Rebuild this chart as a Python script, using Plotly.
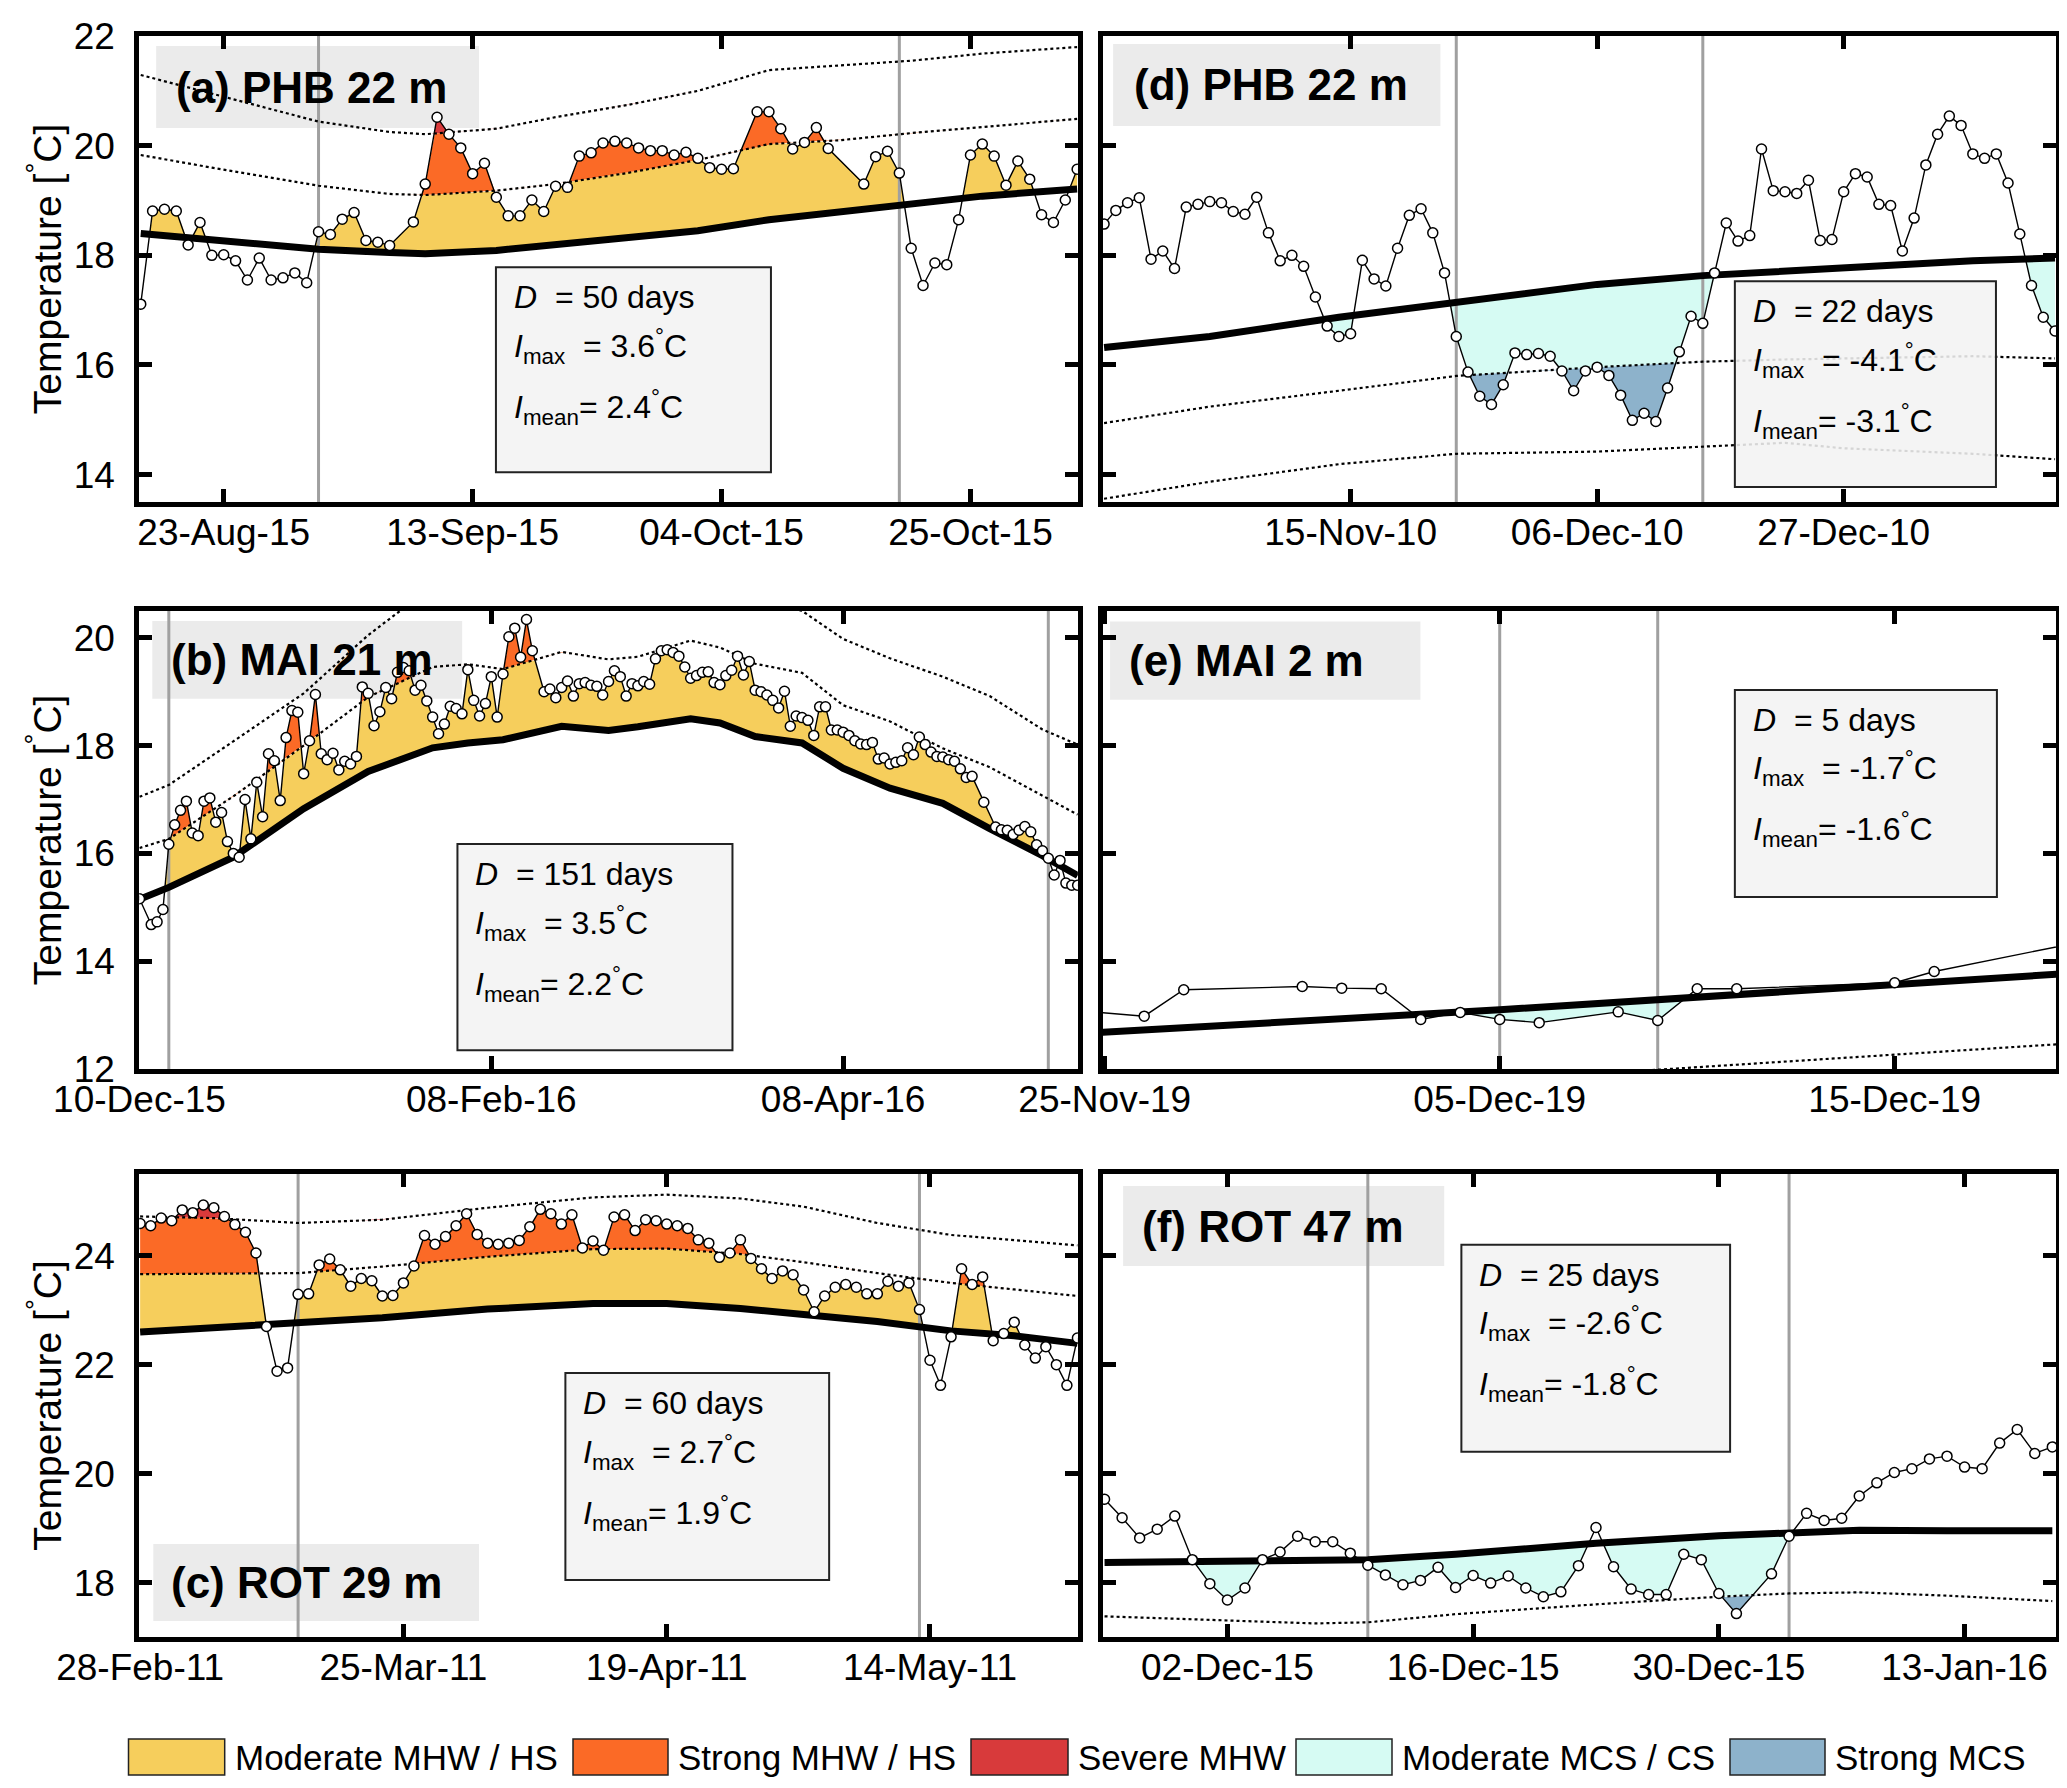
import numpy as np
import plotly.graph_objects as go

# colours of the event categories
c_mod_w = "#f6ce5c"
c_str_w = "#fb6a26"
c_sev_w = "#d83a3b"
c_mod_c = "#d6fbf3"
c_str_c = "#8db2cb"

# ---------------- (a) PHB 22 m
a_start = "2015-08-16"
a_temp = [17.11, 18.81, 18.84, 18.81, 18.19, 18.6, 18.0, 18.01, 17.9, 17.55,
          17.95, 17.55, 17.59, 17.68, 17.5, 18.43, 18.38, 18.66, 18.78, 18.27,
          18.24, 18.18, None, 18.61, 19.3, 20.52, 20.21, 19.96, 19.49, 19.68,
          19.06, 18.72, 18.72, 19.01, 18.8, 19.26, 19.24, 19.81, 19.87, 20.05,
          20.08, 20.05, 19.96, 19.91, 19.91, 19.83, 19.88, 19.77, 19.6, 19.57,
          19.58, None, 20.62, 20.62, 20.31, 19.94, 20.06, 20.33, 19.95, None,
          None, 19.3, 19.8, 19.9, 19.5, 18.13, 17.45, 17.86, 17.83, 18.65,
          19.83, 20.03, 19.81, 19.28, 19.72, 19.39, 18.74, 18.6, 19.01, 19.57]
a_kday = [0, 6, 15, 21, 24, 30, 35, 41, 47, 53, 59, 65, 71, 79]
a_clim = [18.4, 18.29, 18.11, 18.05, 18.03, 18.09, 18.19, 18.32, 18.45, 18.65, 18.8, 18.96, 19.08, 19.21]
a_thr1 = [19.83, 19.6, 19.27, 19.12, 19.1, 19.18, 19.3, 19.5, 19.74, 20.03, 20.1, 20.23, 20.34, 20.49]
a_thr2 = [21.29, 20.95, 20.44, 20.25, 20.21, 20.31, 20.52, 20.74, 21.0, 21.38, 21.46, 21.55, 21.68, 21.8]
a_event = ["2015-08-31", "2015-10-19"]
a_ticks = ["2015-08-23", "2015-09-13", "2015-10-04", "2015-10-25"]

# ---------------- (d) PHB 22 m
d_start = "2010-10-25"
d_temp = [18.57, 18.82, 18.96, 19.05, 17.93, 18.08, 17.76, 18.88, 18.93, 18.98,
          18.96, 18.8, 18.75, 19.06, 18.41, 17.9, 18.0, 17.8, 17.24, 16.71,
          16.52, 16.57, 17.91, 17.57, 17.44, 18.13, 18.73, 18.85, 18.41, 17.68,
          16.52, 15.87, 15.43, 15.28, 15.64, 16.22, 16.19, 16.21, 16.16, 15.89,
          15.53, 15.89, 15.96, 15.81, 15.45, 14.99, 15.12, 14.97, 15.58, 16.24,
          16.89, 16.76, 17.68, 18.59, 18.26, 18.36, 19.94, 19.18, 19.16, 19.13,
          19.37, 18.27, 18.29, 19.16, 19.49, 19.43, 18.93, 18.91, 18.08, 18.68,
          19.65, 20.21, 20.54, 20.37, 19.85, 19.77, 19.85, 19.32, 18.39, 17.45,
          16.87, 16.62]
d_kday = [0, 9, 20, 30, 42, 51, 58, 63, 74, 81]
d_clim = [16.32, 16.52, 16.87, 17.15, 17.47, 17.63, 17.72, 17.78, 17.9, 17.95]
d_thr1 = [14.94, 15.24, 15.53, 15.8, 15.96, 16.06, 16.1, 16.12, 16.16, 16.12]
d_thr2 = [13.56, 13.87, 14.19, 14.38, 14.42, 14.51, 14.58, 14.48, 14.38, 14.28]
d_event = ["2010-11-24", "2010-12-15"]
d_ticks = ["2010-11-15", "2010-12-06", "2010-12-27"]

# ---------------- (b) MAI 21 m
b_start = "2015-12-10"
b_temp = [15.16, None, 14.68, 14.73, 14.96, 16.17, 16.53, 16.8, 16.97, 16.38,
          16.33, 16.97, 17.03, 16.58, 16.76, 16.22, 16.0, 15.93, 17.0, 16.27,
          17.32, 16.68, 17.85, 17.72, 16.98, 18.15, 18.65, 18.62, 17.48, 18.09,
          18.95, 17.85, 17.74, 17.86, 17.55, 17.71, 17.66, 17.8, 19.09, 18.97,
          18.37, 18.63, 19.08, 18.87, 19.36, 19.45, 19.39, 19.03, 19.12, 18.83,
          18.53, 18.22, 18.4, 18.73, 18.69, 18.59, 19.41, 18.84, 18.55, 18.78,
          19.28, 18.53, 19.33, 20.02, 20.18, 19.64, 20.34, 19.76, None, 19.0,
          19.05, 18.89, 19.08, 19.2, 18.92, 19.15, 19.17, 19.12, 19.1, 18.94,
          19.19, 19.39, 19.28, 18.92, 19.15, 19.11, 19.19, 19.14, 19.61, 19.76,
          19.78, 19.73, 19.66, 19.46, 19.25, 19.3, 19.36, 19.37, 19.17, 19.13,
          19.3, 19.4, 19.66, 19.31, 19.56, 19.03, 19.0, 18.94, 18.84, 18.7,
          19.01, 18.36, 18.55, 18.52, 18.47, 18.19, 18.72, 18.72, 18.29, 18.29,
          18.25, 18.19, 18.09, 18.03, 18.02, 18.06, 17.75, 17.77, 17.66, 17.69,
          17.72, 17.96, 17.83, 18.16, 18.02, 17.88, 17.8, 17.79, 17.74, 17.71,
          17.57, 17.41, 17.43, None, 16.95, None, 16.49, 16.44, 16.43, 16.35,
          16.43, 16.5, 16.4, 16.16, 16.05, 15.91, 15.6, 15.87, 15.45, 15.41,
          15.41]
b_kday = [0, 5, 16, 28, 39, 50, 56, 62, 72, 80, 85, 94, 99, 105, 113, 120, 128, 137, 145, 154, 160]
b_clim = [15.15, 15.37, 15.93, 16.83, 17.52, 17.96, 18.05, 18.11, 18.36, 18.28, 18.35,
          18.5, 18.42, 18.17, 18.05, 17.58, 17.21, 16.93, 16.46, 15.96, 15.59]
b_thr1 = [16.1, 16.27, 17.06, 18.0, 18.9, 19.46, 19.51, 19.42, 19.74, 19.6, 19.65,
          19.95, 19.82, 19.52, 19.35, 18.75, 18.45, 17.95, 17.6, 17.07, 16.72]
b_thr2 = [17.05, 17.27, 18.08, 18.97, 20.05, 20.96, 20.9, 20.73, 21.1, 20.9, 20.85,
          21.3, 21.2, 20.75, 20.5, 19.98, 19.62, 19.28, 18.92, 18.3, 18.02]
b_event = ["2015-12-15", "2016-05-13"]
b_ticks = ["2015-12-10", "2016-02-08", "2016-04-08"]

# ---------------- (e) MAI 2 m
e_start = "2019-11-24"
e_dates = ["2019-11-24", "2019-11-26", "2019-11-27", "2019-11-30", "2019-12-01",
           "2019-12-02", "2019-12-03", "2019-12-04", "2019-12-05", "2019-12-06",
           "2019-12-08", "2019-12-09", "2019-12-10", "2019-12-11", "2019-12-15",
           "2019-12-16", "2019-12-20"]
e_temp = [13.1, 12.98, 13.47, 13.53, 13.5, 13.49, 12.92, 13.05, 12.92, 12.86,
          13.06, 12.9, 13.49, 13.49, 13.6, 13.81, 14.4]
e_kday = [0, 11, 26]
e_clim = [12.64, 13.1, 13.8]
e_thr1 = [11.27, 11.8, 12.5]
e_thr2 = [9.9, 10.5, 11.2]
e_event = ["2019-12-05", "2019-12-09"]
e_ticks = ["2019-11-25", "2019-12-05", "2019-12-15"]

# ---------------- (c) ROT 29 m
c_start = "2011-02-28"
c_temp = [24.59, 24.55, 24.69, 24.64, 24.84, 24.79, 24.93, 24.88, 24.72, 24.57,
          24.43, 24.05, 22.7, 21.88, 21.94, 23.29, 23.3, 23.83, 23.94, 23.74,
          23.44, 23.58, 23.54, 23.26, 23.27, 23.5, 23.81, 24.37, 24.21, 24.35,
          24.55, 24.77, 24.39, 24.23, 24.21, 24.23, 24.28, 24.53, 24.85, 24.77,
          24.58, 24.75, 24.14, 24.27, 24.1, 24.71, 24.75, 24.46, 24.66, 24.64,
          24.58, 24.55, 24.5, 24.29, 24.23, 23.97, 24.05, 24.29, 23.95, 23.76,
          23.58, 23.72, 23.65, 23.37, 22.97, 23.26, 23.42, 23.47, 23.42, 23.3,
          23.3, 23.53, 23.44, 23.5, 23.01, 22.08, 21.62, 22.51, 23.76, 23.47,
          23.61, 22.44, 22.57, 22.78, 22.36, 22.12, 22.33, 22.0, 21.62, 22.49]
c_kday = [0, 7, 15, 23, 33, 43, 50, 57, 63, 70, 77, 83, 89]
c_clim = [22.6, 22.68, 22.78, 22.86, 23.02, 23.12, 23.12, 23.03, 22.92, 22.79, 22.62, 22.53, 22.39]
c_thr1 = [23.66, 23.67, 23.68, 23.8, 23.98, 24.12, 24.13, 24.03, 23.88, 23.68, 23.5, 23.38, 23.26]
c_thr2 = [24.72, 24.69, 24.6, 24.66, 24.88, 25.07, 25.12, 25.05, 24.9, 24.6, 24.38, 24.28, 24.19]
c_event = ["2011-03-15", "2011-05-13"]
c_ticks = ["2011-02-28", "2011-03-25", "2011-04-19", "2011-05-14"]

# ---------------- (f) ROT 47 m
f_start = "2015-11-25"
f_temp = [19.53, 19.19, 18.82, 18.98, 19.22, 18.42, 17.98, 17.68, 17.9, 18.42,
          18.56, 18.85, 18.75, 18.75, 18.54, 18.32, 18.14, 17.96, 18.04, 18.28,
          17.91, 18.13, 17.99, 18.12, 17.9, 17.74, 17.83, 18.31, 19.01, 18.29,
          17.88, 17.78, 17.78, 18.52, 18.42, 17.8, 17.43, None, 18.16, 18.85,
          19.27, 19.14, 19.18, 19.59, 19.83, 20.02, 20.09, 20.27, 20.32, 20.12,
          20.09, 20.56, 20.81, 20.37, 20.49]
f_kday = [0, 7, 12, 15, 20, 28, 35, 39, 43, 48, 54]
f_clim = [18.37, 18.38, 18.39, 18.42, 18.52, 18.72, 18.86, 18.92, 18.96, 18.95, 18.95]
f_thr1 = [17.38, 17.3, 17.25, 17.27, 17.42, 17.6, 17.74, 17.8, 17.82, 17.76, 17.66]
f_thr2 = [16.4, 16.3, 16.1, 16.1, 16.3, 16.5, 16.6, 16.7, 16.7, 16.6, 16.4]
f_event = ["2015-12-10", "2016-01-03"]
f_ticks = ["2015-12-02", "2015-12-16", "2015-12-30", "2016-01-13"]

fig = go.Figure()


def add_panel(n, start, temp, kday, clim, thr1, thr2, event, yr, warm, dates=None):
    xa = "x" if n == 1 else "x%d" % n
    ya = "y" if n == 1 else "y%d" % n
    t0 = np.datetime64(start)
    T = np.array([np.nan if v is None else v for v in temp], dtype=float)
    if dates is None:
        d = np.arange(len(T), dtype=float)
    else:
        d = (np.array(dates, dtype="datetime64[D]") - t0).astype(float)
    ok = ~np.isnan(T)

    def when(x):
        return t0 + np.round(np.asarray(x, dtype=float) * 1440).astype("timedelta64[m]")

    # fine grid only used to cut the coloured areas at the crossings
    f = np.linspace(d[ok][0], d[ok][-1], 5000)
    Tf = np.interp(f, d[ok], T[ok])
    Cf = np.interp(f, kday, clim)
    L1 = np.interp(f, kday, thr1)
    L2 = np.interp(f, kday, thr2)
    if warm:
        bands = [(Cf, np.clip(Tf, Cf, L1), c_mod_w),
                 (L1, np.clip(Tf, L1, L2), c_str_w),
                 (L2, np.maximum(Tf, L2), c_sev_w)]
    else:
        bands = [(np.clip(Tf, L1, Cf), Cf, c_mod_c),
                 (np.minimum(Tf, L1), L1, c_str_c)]
    xf = when(f)
    for lo, hi, col in bands:
        fig.add_trace(go.Scatter(x=xf, y=lo, mode="lines", line=dict(width=0),
                                 hoverinfo="skip", xaxis=xa, yaxis=ya))
        fig.add_trace(go.Scatter(x=xf, y=hi, mode="lines", line=dict(width=0),
                                 fill="tonexty", fillcolor=col,
                                 hoverinfo="skip", xaxis=xa, yaxis=ya))
    for ev in event:
        fig.add_trace(go.Scatter(x=[ev, ev], y=yr, mode="lines",
                                 line=dict(color="#a0a0a0", width=3),
                                 hoverinfo="skip", xaxis=xa, yaxis=ya))
    for thr in (thr1, thr2):
        fig.add_trace(go.Scatter(x=when(kday), y=thr, mode="lines",
                                 line=dict(color="black", width=2.2, dash="3px,3px"),
                                 xaxis=xa, yaxis=ya))
    fig.add_trace(go.Scatter(x=when(kday), y=clim, mode="lines",
                             line=dict(color="black", width=7),
                             xaxis=xa, yaxis=ya))
    fig.add_trace(go.Scatter(x=when(d), y=T, mode="lines+markers", connectgaps=True,
                             line=dict(color="black", width=1.4),
                             marker=dict(size=10, color="white",
                                         line=dict(color="black", width=1.5)),
                             xaxis=xa, yaxis=ya))


add_panel(1, a_start, a_temp, a_kday, a_clim, a_thr1, a_thr2, a_event, [13.5, 22], True)
add_panel(2, d_start, d_temp, d_kday, d_clim, d_thr1, d_thr2, d_event, [13.5, 22], False)
add_panel(3, b_start, b_temp, b_kday, b_clim, b_thr1, b_thr2, b_event, [12, 20.5], True)
add_panel(4, e_start, e_temp, e_kday, e_clim, e_thr1, e_thr2, e_event, [12, 20.5], False, e_dates)
add_panel(5, c_start, c_temp, c_kday, c_clim, c_thr1, c_thr2, c_event, [17, 25.5], True)
add_panel(6, f_start, f_temp, f_kday, f_clim, f_thr1, f_thr2, f_event, [17, 25.5], False)

axis = dict(showline=True, linecolor="black", linewidth=5, mirror="ticks",
            ticks="inside", ticklen=13, tickwidth=5, tickcolor="black",
            showgrid=False, zeroline=False, automargin=False,
            tickfont=dict(size=37, color="black"))

left = [0.0635, 0.5176]
right = [0.5298, 0.9908]
rows = [[0.7237, 0.9843], [0.4066, 0.6628], [0.0889, 0.3479]]

panels = [
    # n, col, row, x range, x ticks, y range, y ticks
    (1, left, 0, ["2015-08-15 21:00", "2015-11-03 01:30"], a_ticks, [13.5, 22], [14, 16, 18, 20, 22]),
    (2, right, 0, ["2010-10-24 22:00", "2011-01-14 02:00"], d_ticks, [13.5, 22], [14, 16, 18, 20, 22]),
    (3, left, 1, ["2015-12-09 23:00", "2016-05-18 01:00"], b_ticks, [12, 20.5], [12, 14, 16, 18, 20]),
    (4, right, 1, ["2019-11-24 23:00", "2019-12-19 02:00"], e_ticks, [12, 20.5], [12, 14, 16, 18, 20]),
    (5, left, 2, ["2011-02-27 22:00", "2011-05-28 01:00"], c_ticks, [17, 25.5], [18, 20, 22, 24]),
    (6, right, 2, ["2015-11-24 22:00", "2016-01-18 05:00"], f_ticks, [17, 25.5], [18, 20, 22, 24]),
]

lay = {}
for n, col, r, xr, xt, yr, yt in panels:
    sx = "" if n == 1 else str(n)
    lay["xaxis" + sx] = dict(axis, domain=col, range=xr, type="date", tickvals=xt,
                             tickformat="%d-%b-%y", anchor="y" + sx,
                             ticklabelstandoff=-6)
    lay["yaxis" + sx] = dict(axis, domain=rows[r], range=yr, tickvals=yt,
                             anchor="x" + sx, showticklabels=(col is left),
                             ticklabelstandoff=12)

# panel names and event statistics
names = {1: "(a) PHB 22 m", 2: "(d) PHB 22 m", 3: "(b) MAI 21 m",
         4: "(e) MAI 2 m", 5: "(c) ROT 29 m", 6: "(f) ROT 47 m"}
name_box = {1: [0.018, 0.362, 0.8026, 0.9785, 0.0374],
            2: [0.0105, 0.354, 0.807, 0.983, 0.030],
            3: [0.0139, 0.344, 0.808, 0.978, 0.032],
            4: [0.0073, 0.333, 0.806, 0.977, 0.025],
            5: [0.015, 0.362, 0.0346, 0.2009, 0.032],
            6: [0.021, 0.358, 0.801, 0.974, 0.039]}
stats = {1: ("50", "3.6", "2.4"), 2: ("22", "-4.1", "-3.1"), 3: ("151", "3.5", "2.2"),
         4: ("5", "-1.7", "-1.6"), 5: ("60", "2.7", "1.9"), 6: ("25", "-2.6", "-1.8")}
stat_box = {1: [0.380, 0.673, 0.064, 0.504],
            2: [0.663, 0.937, 0.032, 0.474],
            3: [0.339, 0.632, 0.041, 0.491],
            4: [0.663, 0.938, 0.3755, 0.8275],
            5: [0.454, 0.735, 0.123, 0.570],
            6: [0.376, 0.658, 0.400, 0.847]}

shapes = []
annotations = []
for n in range(1, 7):
    sx = "" if n == 1 else str(n)
    xr_, yr_ = "x%s domain" % sx, "y%s domain" % sx
    x0, x1, y0, y1, tx = name_box[n]
    shapes.append(dict(type="rect", xref=xr_, yref=yr_, x0=x0, x1=x1, y0=y0, y1=y1,
                       fillcolor="#ebebeb", line=dict(width=0), layer="below"))
    annotations.append(dict(xref=xr_, yref=yr_, x=tx, y=(y0 + y1) / 2, xanchor="left",
                            yanchor="middle", showarrow=False, text="<b>%s</b>" % names[n],
                            font=dict(size=44, color="black")))
    x0, x1, y0, y1 = stat_box[n]
    shapes.append(dict(type="rect", xref=xr_, yref=yr_, x0=x0, x1=x1, y0=y0, y1=y1,
                       fillcolor="rgba(242,242,242,0.88)", line=dict(color="#222222", width=2),
                       layer="above"))
    D, imax, imean = stats[n]
    lines = ["<i>D</i>  = %s days" % D,
             "<i>I</i><sub>max</sub>  = %s<sup>°</sup>C" % imax,
             "<i>I</i><sub>mean</sub>= %s<sup>°</sup>C" % imean]
    for txt, dy in zip(lines, [-30, -79, -140]):
        annotations.append(dict(xref=xr_, yref=yr_, x=x0, y=y1, xshift=16, yshift=dy,
                                xanchor="left", yanchor="middle", showarrow=False,
                                text=txt, font=dict(size=32, color="black")))

# y titles of the left column
for yc in [0.854, 0.5347, 0.2184]:
    annotations.append(dict(xref="paper", yref="paper", x=0.0175, y=yc, textangle=-90,
                            xanchor="center", yanchor="middle",
                            showarrow=False, text="Temperature [<sup>°</sup>C]",
                            font=dict(size=39, color="black")))

# legend along the bottom
leg_names = ["Moderate MHW / HS", "Strong MHW / HS", "Severe MHW",
             "Moderate MCS / CS", "Strong MCS"]
leg_cols = [c_mod_w, c_str_w, c_sev_w, c_mod_c, c_str_c]
leg_x = [[120.5, 216.7], [565, 660], [963, 1060], [1288, 1384], [1722, 1817]]
W, H = 2067, 1788
for nm, cl, (bx0, bx1) in zip(leg_names, leg_cols, leg_x):
    shapes.append(dict(type="rect", xref="paper", yref="paper", x0=bx0 / W, x1=bx1 / W,
                       y0=1 - 1767 / H, y1=1 - 1731 / H, fillcolor=cl,
                       line=dict(color="#222222", width=1.5)))
    annotations.append(dict(xref="paper", yref="paper", x=(bx1 + 8) / W, y=1 - 1749 / H,
                            xanchor="left", yanchor="middle", showarrow=False, text=nm,
                            font=dict(size=35, color="black")))

fig.update_layout(**lay)
fig.update_layout(width=W, height=H, margin=dict(l=0, r=0, t=0, b=0),
                  showlegend=False, plot_bgcolor="white", paper_bgcolor="white",
                  font=dict(family="Liberation Sans, Arial, sans-serif", color="black"),
                  shapes=shapes, annotations=annotations)

fig.write_html("out.html")
